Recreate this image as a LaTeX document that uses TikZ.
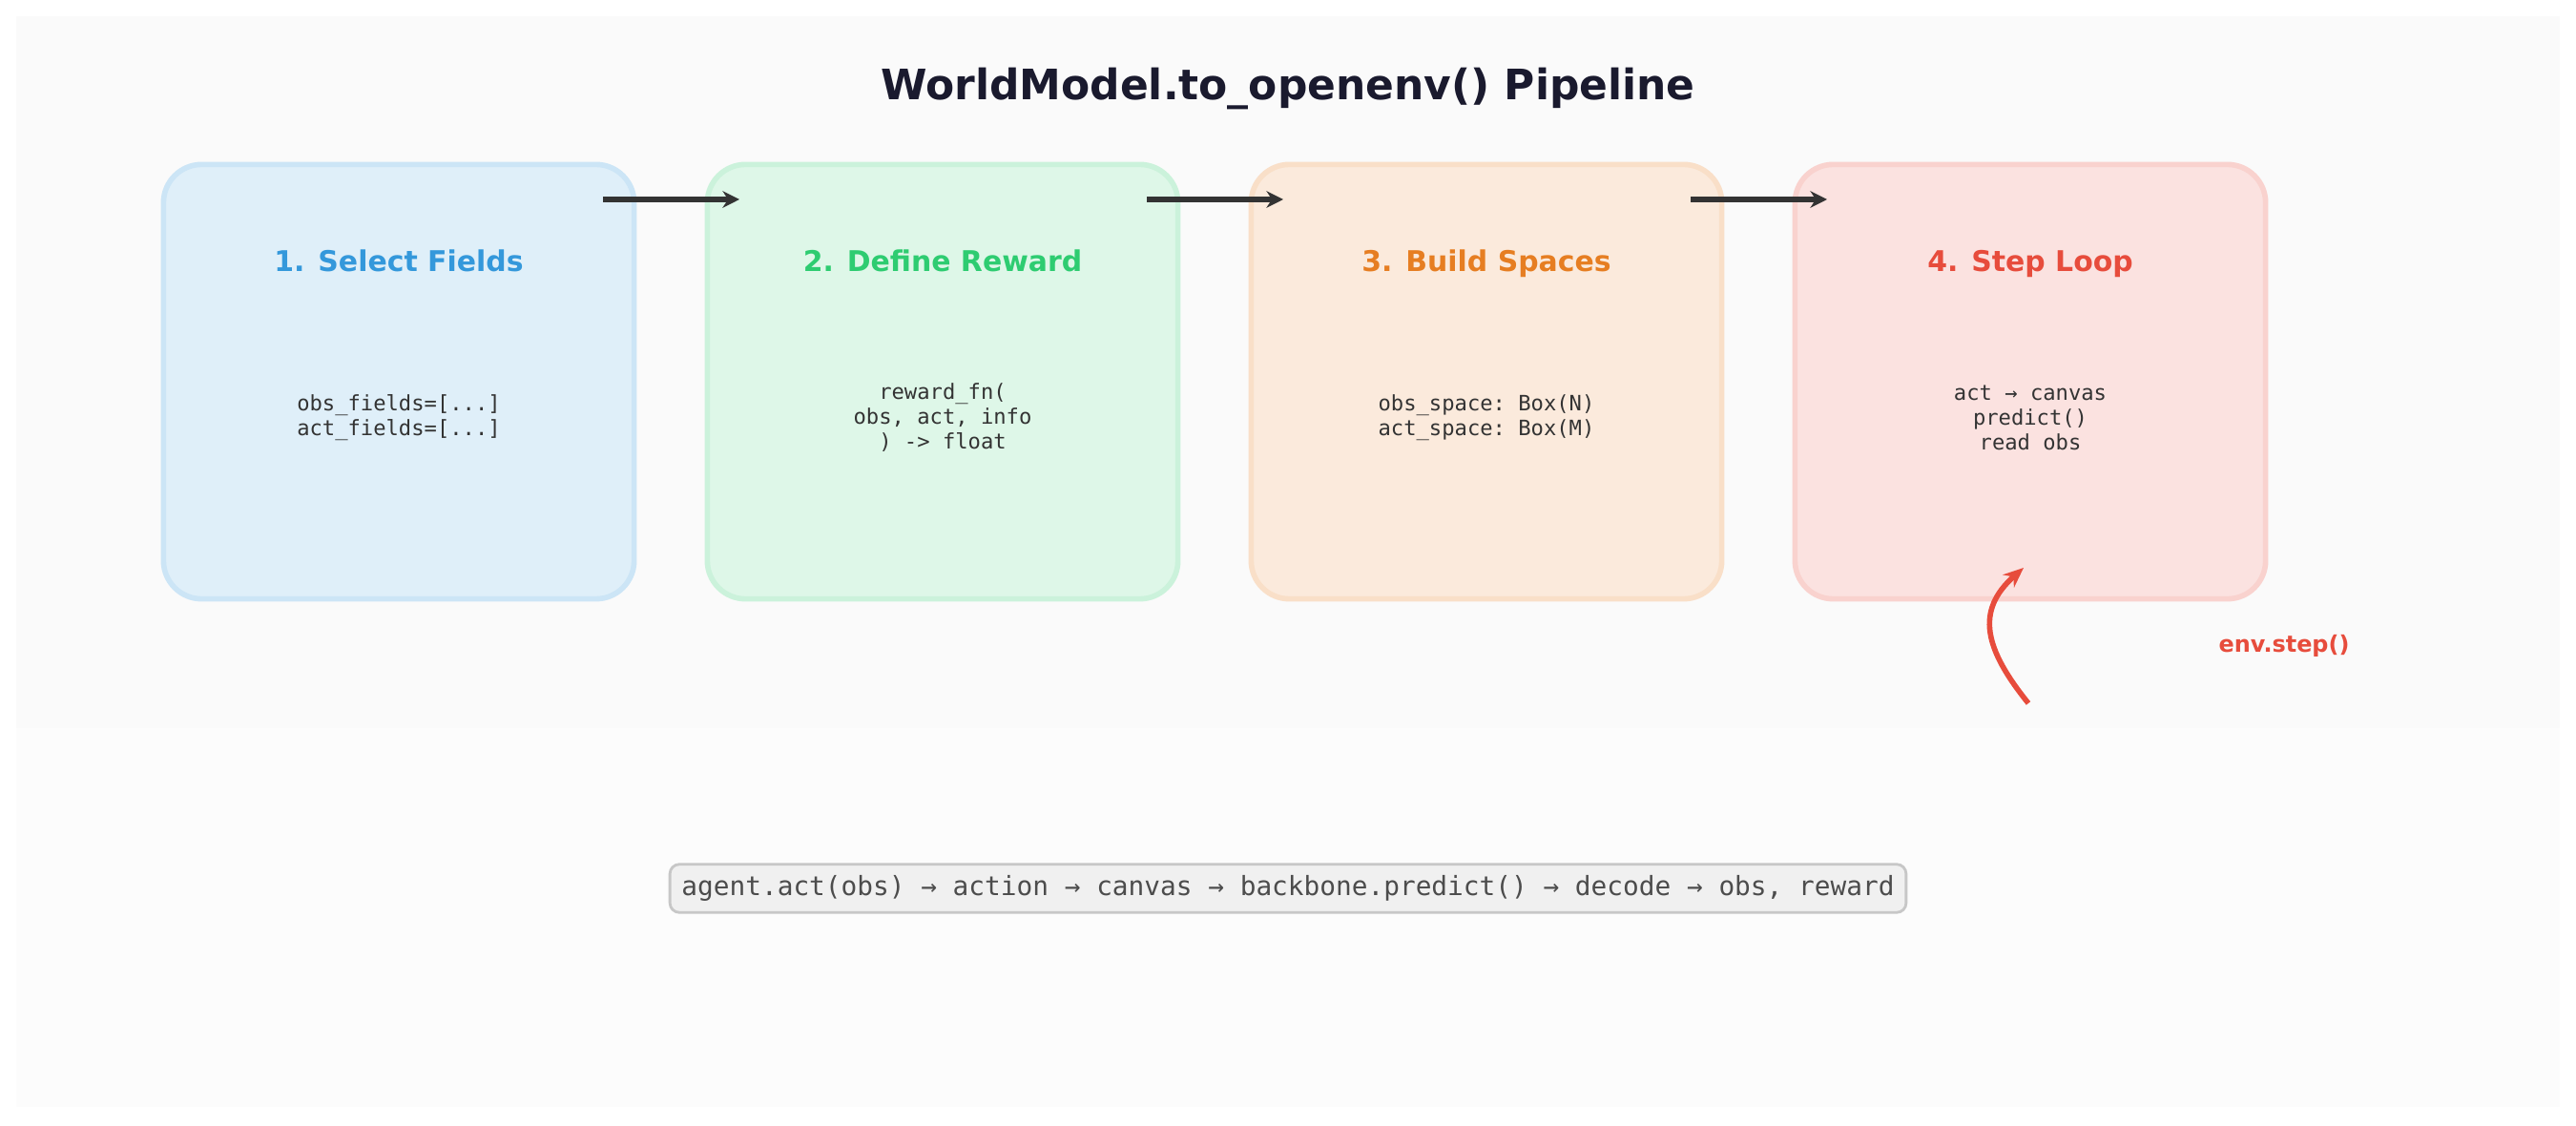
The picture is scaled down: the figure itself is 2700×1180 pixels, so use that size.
\documentclass[tikz,border=0pt]{standalone}
\usepackage{fontspec}
\setmainfont{DejaVu Sans}
\setmonofont{DejaVu Sans Mono}
\usetikzlibrary{arrows.meta}
\definecolor{cb}{HTML}{3498DB}\definecolor{cg}{HTML}{2ECC71}
\definecolor{co}{HTML}{E67E22}\definecolor{cr}{HTML}{E74C3C}
\definecolor{dark}{HTML}{1A1A2E}\definecolor{txt}{HTML}{333333}
\begin{document}
\begin{tikzpicture}[x=0.01cm,y=-0.01cm,
 box/.style={draw=#1!25, line width=1.6pt, fill=#1!16, rounded corners=0.4cm, minimum width=4.93cm, minimum height=4.55cm, inner sep=0pt},
 head/.style={font=\fontsize{8.5}{10}\selectfont\bfseries, text=#1, text height=7pt, text depth=2pt},
 body/.style={font=\ttfamily\fontsize{6.3}{7.4}\selectfont, text=txt, align=center},
 flow/.style={-{Stealth[length=5pt,width=5pt]}, line width=1.8pt, draw=txt}]
\useasboundingbox (0,0) rectangle (2700,1180);
\fill[white] (0,0) rectangle (2700,1180);
\fill[black!2] (17,17) rectangle (2683,763);
\fill[black!1] (17,763) rectangle (2683,1160);
\node[font=\fontsize{12.5}{15}\selectfont\bfseries, text=dark] (title) at (1350,93) {WorldModel.to\_openenv() Pipeline};
\node[box=cb] (b1) at (418,400) {};
\node[box=cg] (b2) at (988,400) {};
\node[box=co] (b3) at (1558,400) {};
\node[box=cr] (b4) at (2128,400) {};
\node[head=cb] (h1) at (418,276) {1. Select Fields};
\node[head=cg] (h2) at (988,276) {2. Define Reward};
\node[head=co] (h3) at (1558,276) {3. Build Spaces};
\node[head=cr] (h4) at (2128,276) {4. Step Loop};
\node[body] (t1) at (418,438) {obs\_fields=[...]\\act\_fields=[...]};
\node[body] (t2) at (988,438) {reward\_fn(\\obs, act, info\\) -> float};
\node[body] (t3) at (1558,438) {obs\_space: Box(N)\\act\_space: Box(M)};
\node[body] (t4) at (2128,438) {act → canvas\\predict()\\read obs};
\coordinate (a1s) at (632,209); \coordinate (a1e) at (775,209);
\coordinate (a2s) at (1202,209); \coordinate (a2e) at (1345,209);
\coordinate (a3s) at (1772,209); \coordinate (a3e) at (1915,209);
\draw[flow] (a1s) -- (a1e);
\draw[flow] (a2s) -- (a2e);
\draw[flow] (a3s) -- (a3e);
\coordinate (es) at (2126,737); \coordinate (ee) at (2121,595);
\draw[-{Stealth[length=6pt,width=5pt]}, line width=1.6pt, draw=cr] (es) .. controls (2080,680) and (2070,640) .. (ee);
\node[font=\fontsize{6.8}{8}\selectfont\bfseries, text=cr] (env) at (2394,677) {env.step()};
\node[draw=black!22, fill=black!6, rounded corners=0.1cm, line width=0.8pt, minimum width=12.95cm, minimum height=0.5cm, font=\ttfamily\fontsize{7.9}{10}\selectfont, text=black!70] (loop) at (1350,931) {agent.act(obs) → action → canvas → backbone.predict() → decode → obs, reward};
\end{tikzpicture}
\end{document}
